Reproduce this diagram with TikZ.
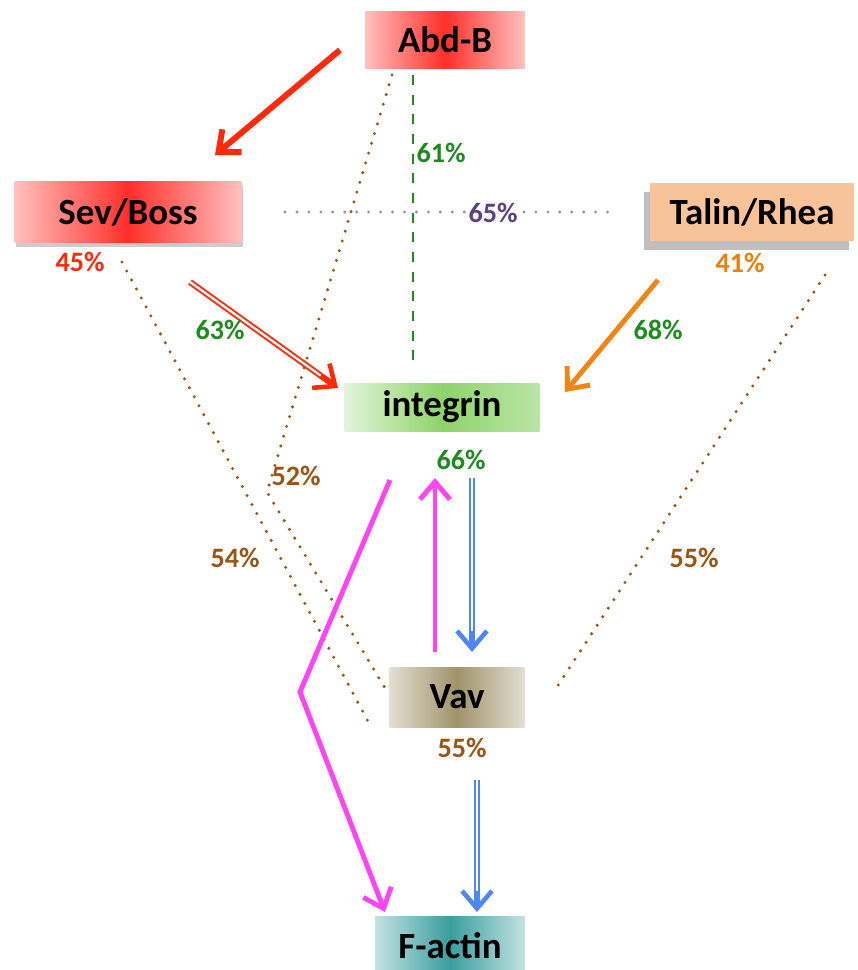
\documentclass[tikz,border=0pt]{standalone}
\usepackage{fontspec}
\setmainfont{Carlito}
\usetikzlibrary{arrows.meta,shadows,calc}

\definecolor{abdred}{HTML}{FF2F2A}
\definecolor{talinpeach}{HTML}{F9C39A}
\definecolor{integgreen}{HTML}{8ED36A}
\definecolor{vavkhaki}{HTML}{A0936A}
\definecolor{actinteal}{HTML}{3A9E9E}
\definecolor{pctgreen}{HTML}{1F8A1F}
\definecolor{pctbrown}{HTML}{9A5516}
\definecolor{pctorange}{HTML}{E5810C}
\definecolor{pctpurple}{HTML}{5D4181}
\definecolor{linkred}{HTML}{FF2A0A}
\definecolor{linkorange}{HTML}{EE8514}
\definecolor{linkpink}{HTML}{FF45F2}
\definecolor{linkblue}{HTML}{4F86F2}

\def \boxFont {\bfseries\fontsize{21}{25}\selectfont}
\def \pctFont {\bfseries\fontsize{16}{19}\selectfont}

\tikzset{
  genebox/.style={rectangle, inner sep=0pt, font=\boxFont, text=black,
    left color=#1!30, right color=#1!30, middle color=#1},
  pct/.style={font=\pctFont, text=#1, inner sep=1pt},
  corr/.style={draw=pctbrown, line width=1.9pt, line cap=round,
    dash pattern=on 0pt off 5.8pt},
  tip/.style={-{Straight Barb[length=10pt,width=17pt]}},
  dblline/.style={line width=1.1pt, double=white, double distance=1.3pt, shorten >=3pt},
}

\begin{document}
\begin{tikzpicture}[x=0.02cm, y=-0.02cm]
  \useasboundingbox (0,0) rectangle (858,970);

  % gene boxes
  \node[genebox=abdred, minimum width=3.2cm, minimum height=1.16cm] (abd) at (445,40) {Abd-B};
  \node[genebox=abdred, minimum width=4.54cm, minimum height=1.24cm,
        drop shadow={shadow xshift=1pt, shadow yshift=-2pt, opacity=.4}] (sev) at (128,212) {Sev/Boss};
  \node[rectangle, inner sep=0pt, font=\boxFont, fill=talinpeach, minimum width=4.1cm, minimum height=1.16cm,
        drop shadow={shadow xshift=-3pt, shadow yshift=-5pt, opacity=.5}] (tal) at (752,212) {Talin/Rhea};
  \node[rectangle, inner sep=0pt, font=\boxFont, left color=integgreen!25, right color=integgreen!60,
        middle color=integgreen, minimum width=3.9cm, minimum height=0.96cm] (int) at (442,407) {integrin};
  \node[genebox=vavkhaki, minimum width=2.7cm, minimum height=1.2cm] (vav) at (457,697) {Vav};
  \node[genebox=actinteal, minimum width=3.0cm, minimum height=1.2cm] (fac) at (450,946) {F-actin};

  % end points of the links
  \coordinate (abdOut) at (340,50);
  \coordinate (sevIn) at (215,155);
  \coordinate (abdDash) at (413,75);
  \coordinate (intDash) at (413,362);
  \coordinate (sevDot) at (285,212);
  \coordinate (talDot) at (610,212);
  \coordinate (sevOut) at (190,282);
  \coordinate (intInL) at (338,388);
  \coordinate (talOut) at (658,280);
  \coordinate (intInR) at (565,392);
  \coordinate (abdCorr) at (392,75);
  \coordinate (abdBend) at (267,492);
  \coordinate (vavCorrA) at (385,688);
  \coordinate (sevCorr) at (122,262);
  \coordinate (vavCorrB) at (370,725);
  \coordinate (talCorr) at (825,275);
  \coordinate (vavCorrC) at (555,690);
  \coordinate (intPink) at (390,480);
  \coordinate (pinkBend) at (300,692);
  \coordinate (facPink) at (385,912);
  \coordinate (vavUp) at (435,652);
  \coordinate (intUp) at (435,478);
  \coordinate (intDown) at (472,478);
  \coordinate (vavIn) at (472,652);
  \coordinate (vavDown) at (477,780);
  \coordinate (facIn) at (477,912);

  % dotted correlations
  \draw[corr] (abdCorr) -- (abdBend) -- (vavCorrA);
  \draw[corr] (sevCorr) -- (vavCorrB);
  \draw[corr] (talCorr) -- (vavCorrC);
  \draw[draw=gray!85, line width=1.8pt, line cap=round, dash pattern=on 0pt off 6.8pt]
    (sevDot) -- (talDot);
  \draw[pctgreen, line width=1.4pt, dash pattern=on 5.6pt off 5.6pt] (abdDash) -- (intDash);

  % arrows
  \draw[tip, linkred, line width=3.4pt] (abdOut) -- (sevIn);
  \draw[dblline, linkred] (sevOut) -- (intInL);
  \draw[tip, linkred, line width=2.6pt] ($(intInL)!12pt!(sevOut)$) -- (intInL);
  \draw[tip, linkorange, line width=2.8pt] (talOut) -- (intInR);
  \draw[tip, linkpink, line width=2.8pt, line join=miter] (intPink) -- (pinkBend) -- (facPink);
  \draw[tip, linkpink, line width=2.8pt] (vavUp) -- (intUp);
  \draw[dblline, linkblue] (intDown) -- (vavIn);
  \draw[tip, linkblue, line width=2.6pt] ($(vavIn)!12pt!(intDown)$) -- (vavIn);
  \draw[dblline, linkblue] (vavDown) -- (facIn);
  \draw[tip, linkblue, line width=2.6pt] ($(facIn)!12pt!(vavDown)$) -- (facIn);

  % percentages
  \node[pct=pctgreen] (p61) at (441,153) {61\%};
  \node[pct=pctpurple, fill=white] (p65) at (493,213) {65\%};
  \node[pct=linkred] (p45) at (80,262) {45\%};
  \node[pct=pctorange] (p41) at (740,263) {41\%};
  \node[pct=pctgreen] (p63) at (220,330) {63\%};
  \node[pct=pctgreen] (p68) at (658,330) {68\%};
  \node[pct=pctbrown] (p52) at (296,476) {52\%};
  \node[pct=pctbrown] (p54) at (235,558) {54\%};
  \node[pct=pctgreen] (p66) at (461,460) {66\%};
  \node[pct=pctbrown] (p55r) at (694,558) {55\%};
  \node[pct=pctbrown] (p55v) at (462,748) {55\%};
\end{tikzpicture}
\end{document}
